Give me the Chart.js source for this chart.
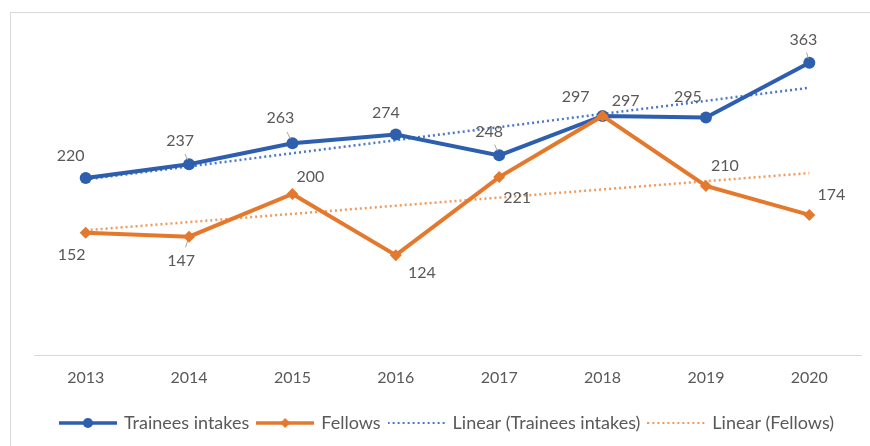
<!DOCTYPE html>
<html>
<head>
<meta charset="utf-8">
<script src="https://cdn.jsdelivr.net/npm/chart.js@4.4.1/dist/chart.umd.min.js"></script>
<style>
html, body { margin: 0; padding: 0; background: #fff; }
#wrap { width: 870px; height: 446px; position: relative; }
</style>
</head>
<body>
<div id="wrap"><canvas id="chart" width="870" height="446"></canvas></div>
<script>
// data
var years = ['2013', '2014', '2015', '2016', '2017', '2018', '2019', '2020'];
var traineesIntakes = [220, 237, 263, 274, 248, 297, 295, 363];
var fellows = [152, 147, 200, 124, 221, 297, 210, 174];
// trendline values at first and last year, as seen in the picture
var trendTrainees = [218, 332];
var trendFellows = [155, 226];
var axisMin = 0;
var axisMax = 400;

var blue = '#2d5fae';
var orange = '#e4782c';
var blueDot = '#4a78c8';
var orangeDot = '#f09a5c';
var textGray = '#595959';
var fontName = 'Lato, "Open Sans", sans-serif';

// where each value label sits relative to its marker (px)
var labelOffsets = [
    [[-15, -22], [-9, -23], [-12, -25], [-10, -22], [-10, -24], [23, -15], [-18, -21], [-6, -23]],
    [[-14, 22], [-8, 24], [18, -17], [26, 18], [18, 21], [-27, -19], [19, -20], [22, -20]]
];
// small gray leader lines in the original
var leaders = [[1, 2, 4, 7], [1]];

function endsOnly(pair) {
    return years.map(function (y, i) {
        if (i === 0) return pair[0];
        if (i === years.length - 1) return pair[1];
        return null;
    });
}

// legend symbols: line with marker / dotted line
function legendSymbol(color, marker, dotted) {
    var c = document.createElement('canvas');
    c.width = 58; c.height = 14;
    var g = c.getContext('2d');
    g.strokeStyle = color;
    g.lineWidth = dotted ? 2 : 3.5;
    if (dotted) g.setLineDash([2, 3]);
    g.beginPath(); g.moveTo(0, 7); g.lineTo(58, 7); g.stroke();
    g.setLineDash([]);
    g.fillStyle = color;
    if (marker === 'circle') {
        g.beginPath(); g.arc(29, 7, 5, 0, Math.PI * 2); g.fill();
    } else if (marker === 'diamond') {
        g.beginPath(); g.moveTo(29, 2); g.lineTo(34, 7); g.lineTo(29, 12); g.lineTo(24, 7); g.closePath(); g.fill();
    }
    return c;
}

var legendItems = [
    { text: 'Trainees intakes', pointStyle: legendSymbol(blue, 'circle', false) },
    { text: 'Fellows', pointStyle: legendSymbol(orange, 'diamond', false) },
    { text: 'Linear (Trainees intakes)', pointStyle: legendSymbol(blueDot, null, true) },
    { text: 'Linear (Fellows)', pointStyle: legendSymbol(orangeDot, null, true) }
];

var frame = {
    id: 'frame',
    beforeDraw: function (chart) {
        var ctx = chart.ctx;
        ctx.save();
        ctx.strokeStyle = '#d9d9d9';
        ctx.lineWidth = 1;
        ctx.strokeRect(10.5, 12.5, 900, 500);
        ctx.restore();
    }
};

var valueLabels = {
    id: 'valueLabels',
    afterDatasetsDraw: function (chart) {
        var ctx = chart.ctx;
        ctx.save();
        ctx.font = '16px ' + fontName;
        ctx.textAlign = 'center';
        ctx.textBaseline = 'middle';
        [0, 1].forEach(function (di) {
            var meta = chart.getDatasetMeta(di);
            var vals = chart.data.datasets[di].data;
            meta.data.forEach(function (pt, i) {
                var off = labelOffsets[di][i];
                if (leaders[di].indexOf(i) >= 0) {
                    ctx.strokeStyle = '#a6a6a6';
                    ctx.lineWidth = 1;
                    ctx.beginPath();
                    ctx.moveTo(pt.x + off[0] * 0.45, pt.y + off[1] * 0.45);
                    ctx.lineTo(pt.x + off[0] * 0.18, pt.y + off[1] * 0.18);
                    ctx.stroke();
                }
                ctx.fillStyle = textGray;
                ctx.fillText(String(vals[i]), pt.x + off[0], pt.y + off[1]);
            });
        });
        ctx.restore();
    }
};

var ctx = document.getElementById('chart').getContext('2d');
new Chart(ctx, {
    type: 'line',
    data: {
        labels: years,
        datasets: [{
            label: 'Trainees intakes',
            data: traineesIntakes,
            borderColor: blue,
            backgroundColor: blue,
            borderWidth: 4,
            pointStyle: 'circle',
            pointRadius: 6,
            pointBorderWidth: 0,
            tension: 0,
            order: 1
        }, {
            label: 'Fellows',
            data: fellows,
            borderColor: orange,
            backgroundColor: orange,
            borderWidth: 4,
            pointStyle: 'rectRot',
            pointRadius: 6,
            pointBorderWidth: 0,
            tension: 0,
            order: 0
        }, {
            label: 'Linear (Trainees intakes)',
            data: endsOnly(trendTrainees),
            borderColor: blueDot,
            borderWidth: 2.5,
            borderDash: [2, 3],
            pointRadius: 0,
            spanGaps: true,
            order: 2
        }, {
            label: 'Linear (Fellows)',
            data: endsOnly(trendFellows),
            borderColor: orangeDot,
            borderWidth: 2.5,
            borderDash: [2, 3],
            pointRadius: 0,
            spanGaps: true,
            order: 3
        }]
    },
    options: {
        responsive: false,
        animation: false,
        layout: { padding: { left: 34, right: 9, top: 33, bottom: 4 } },
        plugins: {
            tooltip: { enabled: false },
            legend: {
                position: 'bottom',
                labels: {
                    usePointStyle: true,
                    pointStyleWidth: 54,
                    boxHeight: 14,
                    padding: 9,
                    color: textGray,
                    font: { family: fontName, size: 18 },
                    generateLabels: function () {
                        return legendItems.map(function (it, i) {
                            return {
                                text: it.text,
                                pointStyle: it.pointStyle,
                                fillStyle: 'transparent',
                                strokeStyle: 'transparent',
                                lineWidth: 0,
                                fontColor: textGray,
                                datasetIndex: i,
                                hidden: false
                            };
                        });
                    }
                }
            }
        },
        scales: {
            x: {
                offset: true,
                grid: { display: false, drawTicks: false },
                border: { display: true, color: '#d9d9d9', width: 1 },
                ticks: {
                    color: textGray,
                    padding: 13,
                    font: { family: fontName, size: 16 }
                },
                afterFit: function (scale) { scale.height = 50; }
            },
            y: {
                display: false,
                min: axisMin,
                max: axisMax
            }
        }
    },
    plugins: [frame, valueLabels]
});
</script>
</body>
</html>
